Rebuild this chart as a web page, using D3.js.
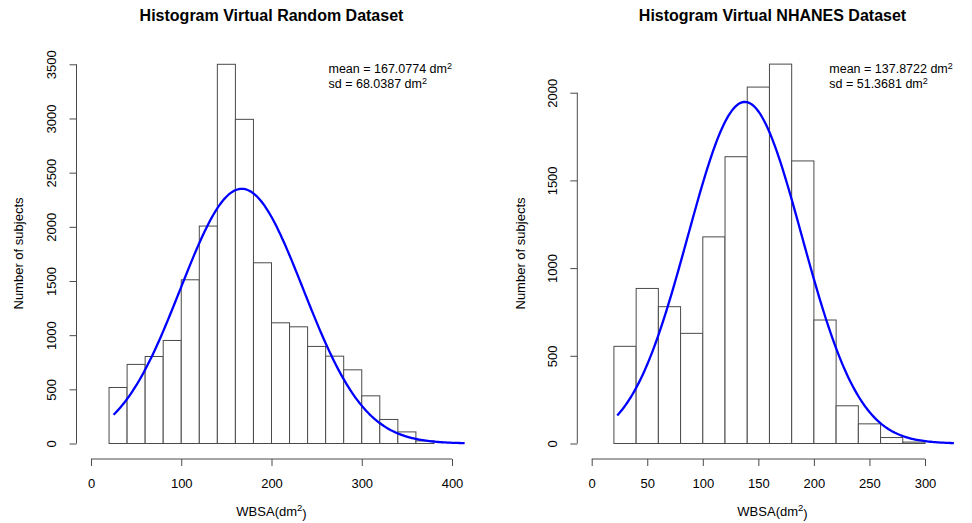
<!DOCTYPE html>
<html>
<head>
<meta charset="utf-8">
<script src="https://cdn.jsdelivr.net/npm/d3@7"></script>
<style>
  html, body { margin: 0; padding: 0; background: #fff; }
  svg { display: block; font-family: "Liberation Sans", Arial, Helvetica, sans-serif; }
</style>
</head>
<body>
<svg id="chart" width="972" height="523"></svg>
<script>
// ---- data ----
const binWidth = 20;

// Virtual Random dataset: bins start at 20, 20 wide
const randomBinStart = 20;
const randomCounts = [517, 730, 803, 951, 1511, 2007, 3500, 2992, 1668, 1114, 1077, 896, 806, 680, 440, 222, 107, 24];
const randomMean = 167.0774;
const randomSd = 68.0387;
const randomRange = [25, 414];
const randomXTicks = [0, 100, 200, 300, 400];
const randomYTicks = [0, 500, 1000, 1500, 2000, 2500, 3000, 3500];

// Virtual NHANES dataset
const nhanesBinStart = 20;
const nhanesCounts = [554, 884, 780, 628, 1178, 1635, 2032, 2163, 1611, 704, 215, 112, 34, 8];
const nhanesMean = 137.8722;
const nhanesSd = 51.3681;
const nhanesRange = [23, 326];
const nhanesXTicks = [0, 50, 100, 150, 200, 250, 300];
const nhanesYTicks = [0, 500, 1000, 1500, 2000];

const svg = d3.select("#chart");
const lineColor = "#4a4a4a";

function panel(cfg) {
  const g = svg.append("g");
  const x = d3.scaleLinear().domain(cfg.xDomain).range(cfg.xRange);
  const y = d3.scaleLinear().domain(cfg.yDomain).range(cfg.yRange);

  // histogram bars
  const bins = cfg.counts.map((c, i) => ({
    x0: cfg.binStart + i * binWidth,
    x1: cfg.binStart + (i + 1) * binWidth,
    count: c
  }));
  g.append("g").selectAll("rect").data(bins).join("rect")
    .attr("x", d => x(d.x0))
    .attr("width", d => x(d.x1) - x(d.x0))
    .attr("y", d => y(d.count))
    .attr("height", d => y(0) - y(d.count))
    .attr("fill", "#fff")
    .attr("stroke", lineColor)
    .attr("stroke-width", 1);

  // fitted normal curve, scaled to counts per bin
  const n = d3.sum(cfg.counts);
  const dens = v => n * binWidth * Math.exp(-0.5 * ((v - cfg.mean) / cfg.sd) ** 2) / (cfg.sd * Math.sqrt(2 * Math.PI));
  const pts = d3.range(0, 201).map(i => {
    const v = cfg.range[0] + (cfg.range[1] - cfg.range[0]) * i / 200;
    return [v, dens(v)];
  });
  g.append("path")
    .datum(pts)
    .attr("d", d3.line().x(d => x(d[0])).y(d => y(d[1])))
    .attr("fill", "none")
    .attr("stroke", "#0000ff")
    .attr("stroke-width", 2.3);

  // x axis (detached below the plot)
  const xa = g.append("g")
    .attr("transform", `translate(0,${cfg.xAxisY})`)
    .call(d3.axisBottom(x).tickValues(cfg.xTicks).tickSize(7).tickSizeOuter(0).tickFormat(d3.format("d")));
  xa.select(".domain").attr("d", `M${x(cfg.xTicks[0])},0H${x(cfg.xTicks[cfg.xTicks.length - 1])}`);
  xa.selectAll("line").attr("stroke", lineColor);
  xa.select(".domain").attr("stroke", lineColor);
  xa.selectAll("text")
    .attr("y", 19.5).attr("dy", "0.71em")
    .attr("font-size", 13).attr("fill", "#000")
    .style("font-family", "Liberation Sans, Arial, sans-serif");

  // y axis (labels rotated parallel to axis)
  const ya = g.append("g")
    .attr("transform", `translate(${cfg.yAxisX},0)`)
    .call(d3.axisLeft(y).tickValues(cfg.yTicks).tickSize(7).tickSizeOuter(0).tickFormat(d3.format("d")));
  ya.select(".domain").attr("d", `M0,${y(cfg.yTicks[0])}V${y(cfg.yTicks[cfg.yTicks.length - 1])}`)
    .attr("stroke", lineColor);
  ya.selectAll("line").attr("stroke", lineColor);
  ya.selectAll("text")
    .attr("transform", "rotate(-90)")
    .attr("x", 0).attr("y", -20.5).attr("dy", 0)
    .attr("text-anchor", "middle")
    .attr("font-size", 13).attr("fill", "#000")
    .style("font-family", "Liberation Sans, Arial, sans-serif");

  // title
  g.append("text")
    .attr("x", cfg.titleX).attr("y", 21)
    .attr("text-anchor", "middle")
    .attr("font-size", 16).attr("font-weight", "bold")
    .text(cfg.title);

  // axis titles
  const xt = g.append("text")
    .attr("x", cfg.titleX).attr("y", 516)
    .attr("text-anchor", "middle")
    .attr("font-size", 13);
  xt.append("tspan").text("WBSA(dm");
  xt.append("tspan").attr("font-size", 9.5).attr("dy", "-0.5em").text("2");
  xt.append("tspan").attr("dy", "0.5em").text(")");

  g.append("text")
    .attr("transform", `translate(${cfg.yTitleX},${253.5}) rotate(-90)`)
    .attr("text-anchor", "middle")
    .attr("font-size", 13)
    .text("Number of subjects");

  // mean / sd annotation
  const lines = [
    ["mean = " + cfg.mean.toFixed(4) + " dm", 73],
    ["sd = " + cfg.sd.toFixed(4) + " dm", 87.5]
  ];
  lines.forEach(([txt, yy]) => {
    const t = g.append("text").attr("x", cfg.noteX).attr("y", yy).attr("font-size", 12.5);
    t.append("tspan").text(txt);
    t.append("tspan").attr("font-size", 9).attr("dy", "-0.4em").text("2");
  });
}

panel({
  title: "Histogram Virtual Random Dataset",
  counts: randomCounts, binStart: randomBinStart,
  mean: randomMean, sd: randomSd, range: randomRange,
  xTicks: randomXTicks, yTicks: randomYTicks,
  xDomain: [0, 400], xRange: [91, 452],
  yDomain: [0, 3500], yRange: [443.5, 64.3],
  xAxisY: 459, yAxisX: 76.5, yTitleX: 22.5,
  titleX: 271.5, noteX: 328.5
});

panel({
  title: "Histogram Virtual NHANES Dataset",
  counts: nhanesCounts, binStart: nhanesBinStart,
  mean: nhanesMean, sd: nhanesSd, range: nhanesRange,
  xTicks: nhanesXTicks, yTicks: nhanesYTicks,
  xDomain: [0, 300], xRange: [591.7, 925],
  yDomain: [0, 2000], yRange: [443.5, 92.7],
  xAxisY: 459, yAxisX: 577.3, yTitleX: 524.5,
  titleX: 772.5, noteX: 829.3
});
</script>
</body>
</html>
